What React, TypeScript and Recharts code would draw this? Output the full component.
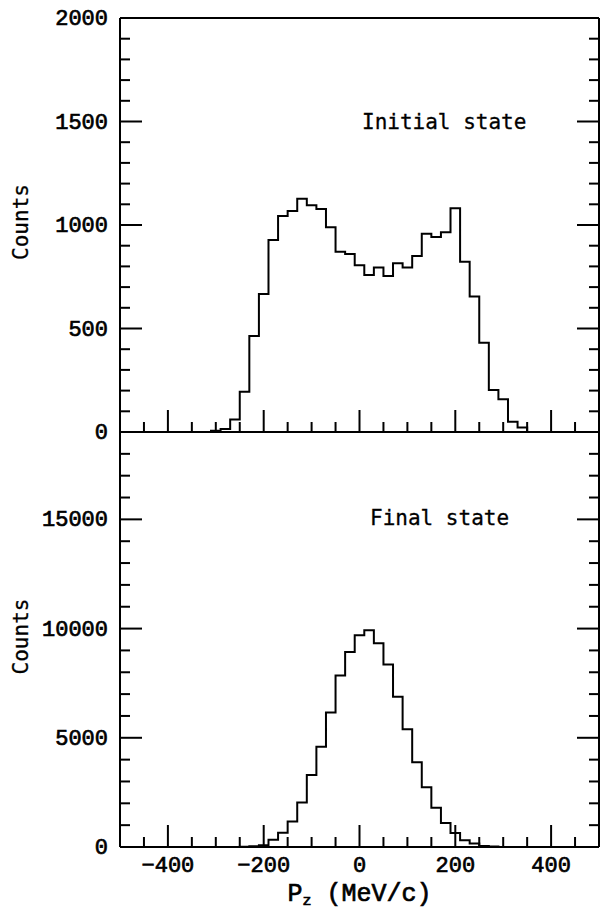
import React from 'react';
import { LineChart, Line, XAxis, YAxis } from 'recharts';

// ---- data ----
const initialBinCenters = [-300, -280, -260, -240, -220, -200, -180, -160, -140, -120, -100, -80, -60, -40, -20, 0, 20, 40, 60, 80, 100, 120, 140, 160, 180, 200, 220, 240, 260, 280, 300, 320, 340];
const initialCounts = [6, 15, 60, 195, 464, 667, 928, 1043, 1068, 1127, 1095, 1077, 989, 871, 860, 805, 758, 795, 754, 815, 795, 850, 958, 942, 965, 1081, 823, 654, 431, 203, 158, 50, 22];

const finalBinCenters = [-240, -220, -200, -180, -160, -140, -120, -100, -80, -60, -40, -20, 0, 20, 40, 60, 80, 100, 120, 140, 160, 180, 200, 220, 240, 260, 280];
const finalCounts = [10, 30, 77, 336, 655, 1170, 2037, 3300, 4590, 6153, 7857, 8925, 9695, 9923, 9330, 8359, 6883, 5395, 3875, 2735, 1794, 1094, 638, 305, 155, 50, 20];

const BIN_WIDTH = 20;
const xDomain = [-500, 500];
const xTicks = [-500, -450, -400, -350, -300, -250, -200, -150, -100, -50, 0, 50, 100, 150, 200, 250, 300, 350, 400, 450, 500];
const xMajorTicks = [-400, -200, 0, 200, 400];

const topDomain = [0, 2000];
const topTicks = [0, 100, 200, 300, 400, 500, 600, 700, 800, 900, 1000, 1100, 1200, 1300, 1400, 1500, 1600, 1700, 1800, 1900, 2000];
const topMajorTicks = [0, 500, 1000, 1500, 2000];

const bottomDomain = [0, 19000];
const bottomTicks = [0, 1000, 2000, 3000, 4000, 5000, 6000, 7000, 8000, 9000, 10000, 11000, 12000, 13000, 14000, 15000, 16000, 17000, 18000, 19000];
const bottomMajorTicks = [0, 5000, 10000, 15000];

const xAxisTitle = 'P';
const xAxisTitleSub = 'z';
const xAxisTitleRest = ' (MeV/c)';
const yAxisTitle = 'Counts';
const topPanelTitle = 'Initial state';
const bottomPanelTitle = 'Final state';

// ---- helpers ----
function buildSteps(centers: number[], counts: number[]) {
  const pts: { x: number; y: number }[] = [{ x: xDomain[0], y: 0 }];
  centers.forEach((c, i) => pts.push({ x: c - BIN_WIDTH / 2, y: counts[i] }));
  const lastEdge = centers[centers.length - 1] + BIN_WIDTH / 2;
  pts.push({ x: lastEdge, y: 0 });
  pts.push({ x: xDomain[1], y: 0 });
  return pts;
}

const initialData = buildSteps(initialBinCenters, initialCounts);
const finalData = buildSteps(finalBinCenters, finalCounts);

const fmt = (v: number) => (v < 0 ? '\u2212' + Math.abs(v) : String(v));

const TICK_FONT = "'Liberation Mono', monospace";
const LABEL_FONT = "'DejaVu Sans Mono', monospace";
const MAJOR = 22;
const MINOR = 10;
const textInk = { stroke: '#000', strokeWidth: 0.7 };

function makeXTick(direction: 1 | -1, showLabels: boolean) {
  return (props: any) => {
    const { x, y, payload } = props;
    const v = payload.value;
    const major = xMajorTicks.includes(v);
    const isEdge = v === xDomain[0] || v === xDomain[1];
    const len = major ? MAJOR : MINOR;
    return (
      <g>
        {!isEdge && (
          <line x1={x} x2={x} y1={y} y2={y + direction * len} stroke="#000" strokeWidth={2} />
        )}
        {showLabels && major && (
          <text x={x} y={y + 25} textAnchor="middle" fontFamily={TICK_FONT} fontSize={22} fill="#000" {...textInk}>
            {fmt(v)}
          </text>
        )}
      </g>
    );
  };
}

function makeYTick(direction: 1 | -1, majors: number[], domain: number[], labels: number[] | null) {
  return (props: any) => {
    const { x, y, payload } = props;
    const v = payload.value;
    const major = majors.includes(v);
    const isEdge = v === domain[0] || v === domain[1];
    const len = major ? MAJOR : MINOR;
    return (
      <g>
        {!isEdge && (
          <line x1={x} x2={x + direction * len} y1={y} y2={y} stroke="#000" strokeWidth={2} />
        )}
        {labels && labels.includes(v) && (
          <text x={x - 12} y={y} dy={7} textAnchor="end" fontFamily={TICK_FONT} fontSize={22} fill="#000" {...textInk}>
            {fmt(v)}
          </text>
        )}
      </g>
    );
  };
}

const countsLabel = (props: any) => {
  const vb = props.viewBox;
  const cx = 28;
  const cy = vb.y + vb.height / 2 - 3;
  return (
    <text
      x={cx}
      y={cy}
      transform={`rotate(-90 ${cx} ${cy})`}
      textAnchor="middle"
      fontFamily={LABEL_FONT}
      fontSize={21}
      fill="#000"
      stroke="#000"
      strokeWidth={0.3}
    >
      {yAxisTitle}
    </text>
  );
};

const xTitleLabel = (props: any) => {
  const vb = props.viewBox;
  const cx = vb.x + vb.width / 2;
  return (
    <text x={cx} y={vb.y + 54} textAnchor="middle" fontFamily={TICK_FONT} fontSize={25} fill="#000" {...textInk}>
      {xAxisTitle}
      <tspan fontSize={15} dy={4}>{xAxisTitleSub}</tspan>
      <tspan dy={-4}>{xAxisTitleRest}</tspan>
    </text>
  );
};

const axisLine = { stroke: '#000', strokeWidth: 2 };

export default function App() {
  return (
    <div style={{ position: 'absolute', left: 0, top: 0, width: 600, height: 909, background: '#fff', overflow: 'hidden' }}>
      <div style={{ position: 'absolute', left: 0, top: 0 }}>
        <LineChart width={600} height={450} data={initialData} margin={{ top: 0, right: 0, bottom: 0, left: 0 }}>
          <XAxis
            xAxisId="bottom"
            dataKey="x"
            type="number"
            domain={xDomain}
            ticks={xTicks}
            interval={0}
            orientation="bottom"
            height={18}
            tickSize={0}
            tickMargin={0}
            tickLine={false}
            axisLine={axisLine}
            tick={makeXTick(-1, false)}
            allowDataOverflow
          />
          <XAxis
            xAxisId="top"
            type="number"
            domain={xDomain}
            ticks={xTicks}
            interval={0}
            orientation="top"
            height={18}
            tickSize={0}
            tickMargin={0}
            tickLine={false}
            axisLine={axisLine}
            tick={makeXTick(1, false)}
            allowDataOverflow
          />
          <YAxis
            yAxisId="left"
            type="number"
            domain={topDomain}
            ticks={topTicks}
            interval={0}
            orientation="left"
            width={120}
            tickSize={0}
            tickMargin={0}
            tickLine={false}
            axisLine={axisLine}
            tick={makeYTick(1, topMajorTicks, topDomain, topMajorTicks)}
            label={countsLabel}
            allowDataOverflow
          />
          <YAxis
            yAxisId="right"
            type="number"
            domain={topDomain}
            ticks={topTicks}
            interval={0}
            orientation="right"
            width={1}
            tickSize={0}
            tickMargin={0}
            tickLine={false}
            axisLine={axisLine}
            tick={makeYTick(-1, topMajorTicks, topDomain, null)}
            allowDataOverflow
          />
          <Line
            xAxisId="bottom"
            yAxisId="left"
            dataKey="y"
            type="stepAfter"
            stroke="#000"
            strokeWidth={2}
            dot={false}
            isAnimationActive={false}
          />
        </LineChart>
      </div>
      <div style={{ position: 'absolute', left: 0, top: 414 }}>
        <LineChart width={600} height={495} data={finalData} margin={{ top: 0, right: 0, bottom: 0, left: 0 }}>
          <XAxis
            xAxisId="bottom"
            dataKey="x"
            type="number"
            domain={xDomain}
            ticks={xTicks}
            interval={0}
            orientation="bottom"
            height={62}
            tickSize={0}
            tickMargin={0}
            tickLine={false}
            axisLine={axisLine}
            tick={makeXTick(-1, true)}
            label={xTitleLabel}
            allowDataOverflow
          />
          <XAxis
            xAxisId="top"
            type="number"
            domain={xDomain}
            ticks={xTicks}
            interval={0}
            orientation="top"
            height={18}
            tickSize={0}
            tickMargin={0}
            tickLine={false}
            axisLine={axisLine}
            tick={makeXTick(1, false)}
            allowDataOverflow
          />
          <YAxis
            yAxisId="left"
            type="number"
            domain={bottomDomain}
            ticks={bottomTicks}
            interval={0}
            orientation="left"
            width={120}
            tickSize={0}
            tickMargin={0}
            tickLine={false}
            axisLine={axisLine}
            tick={makeYTick(1, bottomMajorTicks, bottomDomain, bottomMajorTicks)}
            label={countsLabel}
            allowDataOverflow
          />
          <YAxis
            yAxisId="right"
            type="number"
            domain={bottomDomain}
            ticks={bottomTicks}
            interval={0}
            orientation="right"
            width={1}
            tickSize={0}
            tickMargin={0}
            tickLine={false}
            axisLine={axisLine}
            tick={makeYTick(-1, bottomMajorTicks, bottomDomain, null)}
            allowDataOverflow
          />
          <Line
            xAxisId="bottom"
            yAxisId="left"
            dataKey="y"
            type="stepAfter"
            stroke="#000"
            strokeWidth={2}
            dot={false}
            isAnimationActive={false}
          />
        </LineChart>
      </div>
      <svg width={600} height={909} style={{ position: 'absolute', left: 0, top: 0, pointerEvents: 'none' }}>
        <text x={362} y={129} fontFamily={LABEL_FONT} fontSize={21} fill="#000" stroke="#000" strokeWidth={0.3}>{topPanelTitle}</text>
        <text x={370} y={525} fontFamily={LABEL_FONT} fontSize={21} fill="#000" stroke="#000" strokeWidth={0.3}>{bottomPanelTitle}</text>
      </svg>
    </div>
  );
}
